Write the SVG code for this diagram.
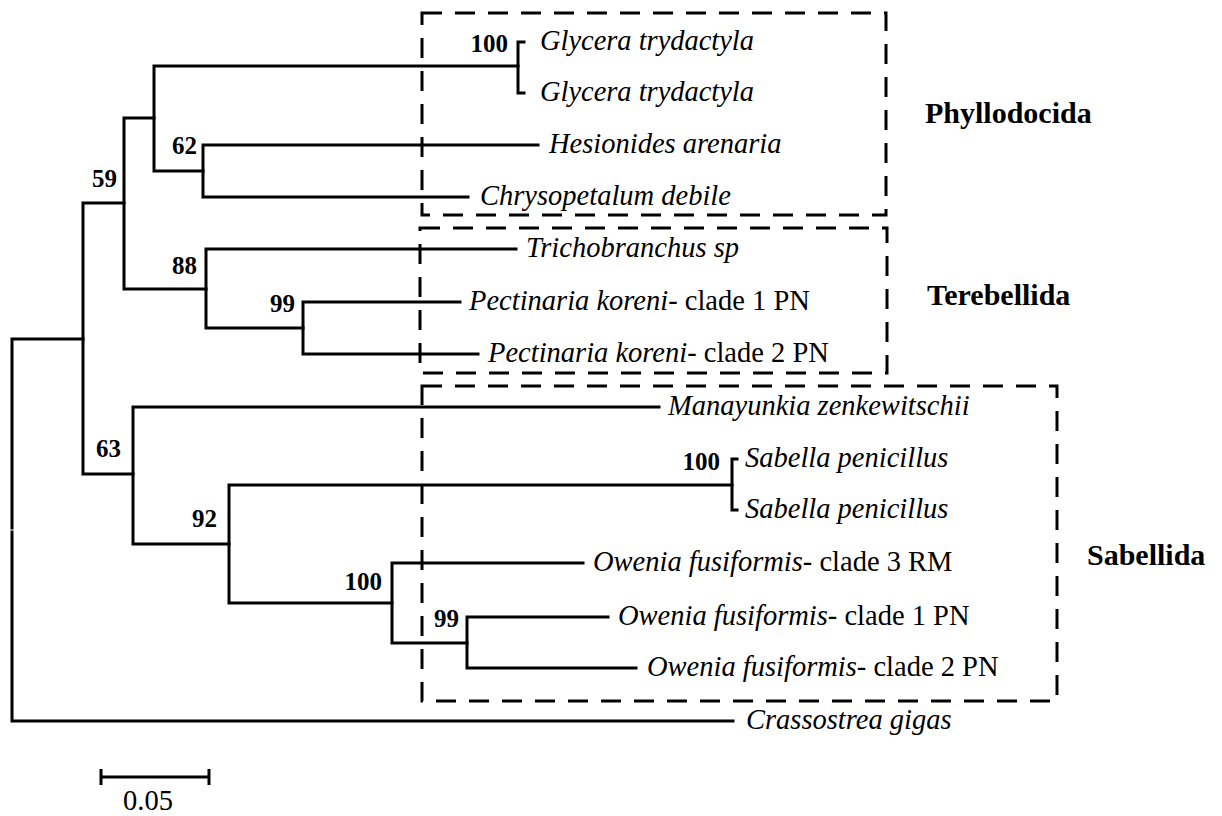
<svg xmlns="http://www.w3.org/2000/svg" width="1222" height="816" viewBox="0 0 1222 816">
<style>
  text { font-family: "Liberation Serif", "Times New Roman", serif; fill: #000; }
  .sp { font-size: 28.5px; font-style: italic; }
  .rg { font-style: normal; }
  .bs { font-size: 25px; font-weight: bold; text-anchor: end; }
  .grp { font-size: 30px; font-weight: bold; }
  .br { fill: none; stroke: #000; stroke-width: 3; stroke-linecap: square; stroke-linejoin: miter; }
  .box { fill: none; stroke: #000; stroke-width: 3; stroke-dasharray: 20 13; }
</style>
<rect width="1222" height="816" fill="#fff"/>

<g id="connectors" class="br">
  <!-- root -->
  <path d="M83 339 H12 V528 M12 532 V721 H733"/>
  <!-- ingroup node -->
  <path d="M124 203 H83 V474 H133"/>
  <!-- node 59 -->
  <path d="M154 118 H124 V289 H206"/>
  <!-- Phyllodocida node -->
  <path d="M518 66 H154 V171 H203"/>
  <!-- Glycera node -->
  <path d="M524 42 H518 V93 H524"/>
  <!-- node 62 -->
  <path d="M538 145 H203 V197 H468"/>
  <!-- node 88 -->
  <path d="M516 249 H206 V328 H303"/>
  <!-- node 99 Pectinaria -->
  <path d="M460 302 H303 V354 H478"/>
  <!-- node 63 -->
  <path d="M659 407 H133 V544 H229"/>
  <!-- node 92 -->
  <path d="M732 485 H229 V603 H392"/>
  <!-- Sabella node -->
  <path d="M737 459 H732 V510 H737"/>
  <!-- node 100 Owenia -->
  <path d="M583 563 H392 V643 H467"/>
  <!-- node 99 Owenia -->
  <path d="M608 617 H467 V668 H636"/>
</g>

<g id="clade-phyllodocida">
  <rect class="box" x="422" y="13" width="464" height="202"/>
  <text class="grp" x="925" y="123">Phyllodocida</text>
</g>
<g id="clade-terebellida">
  <rect class="box" x="420" y="228" width="467" height="145"/>
  <text class="grp" x="927" y="305">Terebellida</text>
</g>
<g id="clade-sabellida">
  <rect class="box" x="422" y="386" width="635" height="315"/>
  <text class="grp" x="1087" y="565">Sabellida</text>
</g>

<g id="leaf-glycera-1"><text class="sp" x="540" y="50" textLength="214" lengthAdjust="spacingAndGlyphs">Glycera trydactyla</text></g>
<g id="leaf-glycera-2"><text class="sp" x="540" y="101" textLength="214" lengthAdjust="spacingAndGlyphs">Glycera trydactyla</text></g>
<g id="leaf-hesionides"><text class="sp" x="549" y="153">Hesionides arenaria</text></g>
<g id="leaf-chrysopetalum"><text class="sp" x="480" y="205">Chrysopetalum debile</text></g>
<g id="leaf-trichobranchus"><text class="sp" x="526" y="257">Trichobranchus sp</text></g>
<g id="leaf-pectinaria-1"><text class="sp" x="469" y="310">Pectinaria koreni<tspan class="rg">- clade 1 PN</tspan></text></g>
<g id="leaf-pectinaria-2"><text class="sp" x="488" y="362">Pectinaria koreni<tspan class="rg">- clade 2 PN</tspan></text></g>
<g id="leaf-manayunkia"><text class="sp" x="668" y="415">Manayunkia zenkewitschii</text></g>
<g id="leaf-sabella-1"><text class="sp" x="745" y="467">Sabella penicillus</text></g>
<g id="leaf-sabella-2"><text class="sp" x="745" y="518">Sabella penicillus</text></g>
<g id="leaf-owenia-3"><text class="sp" x="593" y="571">Owenia fusiformis<tspan class="rg">- clade 3 RM</tspan></text></g>
<g id="leaf-owenia-1"><text class="sp" x="618" y="625">Owenia fusiformis<tspan class="rg">- clade 1 PN</tspan></text></g>
<g id="leaf-owenia-2"><text class="sp" x="647" y="676">Owenia fusiformis<tspan class="rg">- clade 2 PN</tspan></text></g>
<g id="leaf-crassostrea"><text class="sp" x="746" y="729">Crassostrea gigas</text></g>

<g id="node-glycera"><text class="bs" x="508" y="52">100</text></g>
<g id="node-62"><text class="bs" x="197" y="154">62</text></g>
<g id="node-59"><text class="bs" x="117" y="187">59</text></g>
<g id="node-88"><text class="bs" x="197" y="274">88</text></g>
<g id="node-99-pectinaria"><text class="bs" x="295" y="312">99</text></g>
<g id="node-63"><text class="bs" x="121" y="457">63</text></g>
<g id="node-sabella"><text class="bs" x="720" y="470">100</text></g>
<g id="node-92"><text class="bs" x="217" y="527">92</text></g>
<g id="node-100-owenia"><text class="bs" x="382" y="590">100</text></g>
<g id="node-99-owenia"><text class="bs" x="459" y="627">99</text></g>

<g id="scale-bar">
  <path class="br" d="M101 777 H209 M101 769 V785 M209 769 V785" style="stroke-linecap:butt"/>
  <text x="123" y="810" style="font-size:28.5px">0.05</text>
</g>
</svg>
